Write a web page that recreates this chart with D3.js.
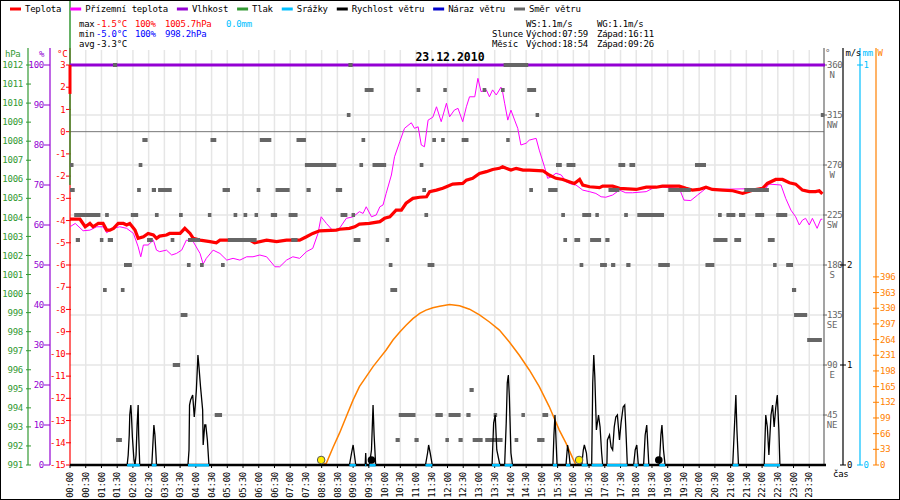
<!DOCTYPE html>
<html lang="cs">
<head>
<meta charset="UTF-8">
<title>23.12.2010</title>
<script src="https://d3js.org/d3.v7.min.js"></script>
<style>
    body { margin: 0; background: #fff; }
    svg text {
        font-family: "DejaVu Sans Mono", monospace;
        font-size: 9px;
        letter-spacing: -0.25px;
    }
</style>
</head>
<body>
<svg id="chart" width="900" height="500"></svg>
<script>
// ---- data (minute of day, value) ----
const temperature = [
    [0,-3.94],[19,-3.94],[29,-4.28],[38,-4.13],[44,-4.28],[54,-4.13],[63,-4.13],[70,-4.43],[76,-4.43],[83,-4.35],
    [92,-4.13],[102,-4.13],[108,-4.2],[114,-4.13],[124,-4.43],[130,-4.8],[140,-4.73],[149,-4.58],[159,-4.65],[165,-4.8],
    [171,-4.7],[184,-4.65],[190,-4.58],[210,-4.58],[219,-4.35],[229,-4.58],[235,-4.8],[248,-4.88],[267,-4.95],[279,-5.0],
    [286,-4.88],[311,-4.88],[343,-4.88],[352,-5.0],[375,-4.88],[394,-4.95],[413,-4.88],[438,-4.88],[451,-4.73],[463,-4.58],
    [476,-4.46],[508,-4.43],[514,-4.39],[533,-4.35],[543,-4.28],[552,-4.16],[571,-4.13],[591,-4.05],[600,-3.9],[610,-3.83],
    [622,-3.53],[632,-3.53],[641,-3.22],[654,-3.0],[667,-2.95],[680,-2.93],[686,-2.7],[699,-2.63],[711,-2.55],[718,-2.48],
    [730,-2.36],[749,-2.33],[756,-2.18],[768,-2.1],[781,-1.88],[794,-1.8],[806,-1.7],[819,-1.65],[825,-1.58],[832,-1.65],
    [841,-1.73],[851,-1.65],[864,-1.73],[876,-1.73],[902,-1.76],[914,-1.95],[927,-2.1],[940,-2.15],[952,-2.25],[962,-2.33],
    [972,-2.15],[978,-2.4],[991,-2.48],[1010,-2.52],[1016,-2.45],[1035,-2.45],[1048,-2.55],[1080,-2.6],[1099,-2.5],[1118,-2.5],
    [1130,-2.45],[1162,-2.45],[1175,-2.55],[1187,-2.63],[1200,-2.6],[1213,-2.5],[1225,-2.6],[1245,-2.63],[1264,-2.66],[1283,-2.78],
    [1302,-2.63],[1321,-2.55],[1330,-2.33],[1346,-2.15],[1359,-2.15],[1372,-2.3],[1384,-2.36],[1397,-2.63],[1410,-2.7],[1422,-2.7],
    [1429,-2.66],[1435,-2.8]
];
const temperatureSpike = [[0,3.0],[0,1.7]];

const feelsLike = [
    [0,-4.28],[10,-4.13],[25,-4.46],[38,-4.43],[51,-4.28],[63,-4.28],[70,-4.55],[83,-4.35],[95,-4.28],[108,-4.35],
    [121,-4.58],[130,-5.18],[135,-5.63],[140,-5.1],[149,-5.1],[159,-4.88],[165,-5.33],[171,-5.4],[184,-5.33],[194,-5.55],
    [203,-5.48],[213,-5.33],[222,-4.88],[235,-4.95],[248,-5.48],[254,-5.96],[260,-5.7],[273,-5.33],[286,-5.48],[299,-5.78],
    [311,-5.7],[324,-5.78],[337,-5.63],[349,-5.63],[362,-5.55],[375,-5.63],[391,-6.08],[400,-6.08],[413,-5.78],[425,-5.63],
    [438,-5.7],[451,-5.4],[463,-5.25],[473,-4.58],[479,-3.83],[489,-4.13],[502,-4.47],[514,-4.35],[527,-3.9],[540,-3.83],
    [552,-3.6],[559,-3.68],[565,-3.38],[575,-3.83],[584,-3.75],[591,-3.38],[597,-3.3],[603,-2.78],[613,-1.95],[619,-1.13],
    [629,-0.45],[638,0.15],[651,0.4],[657,0.15],[664,0.22],[670,-0.6],[676,-0.68],[683,0.52],[692,0.65],[699,1.12],
    [708,0.45],[718,1.28],[724,0.67],[733,0.97],[740,1.05],[749,0.45],[756,1.12],[762,1.57],[772,1.57],[778,2.4],
    [784,1.8],[794,1.88],[800,1.57],[806,1.88],[813,1.65],[822,2.0],[825,1.8],[829,1.28],[835,0.52],[841,0.97],
    [848,0.52],[854,0.15],[860,-0.6],[870,-0.52],[876,-0.38],[889,-0.3],[895,-0.83],[905,-1.58],[911,-2.1],[918,-2.03],
    [927,-1.87],[937,-1.95],[946,-2.25],[956,-2.36],[965,-2.4],[978,-2.63],[991,-2.7],[1003,-2.78],[1013,-2.93],[1022,-2.95],
    [1035,-2.85],[1048,-2.63],[1060,-2.75],[1073,-2.75],[1099,-2.7],[1111,-2.55],[1124,-2.48],[1162,-2.55],[1171,-3.08],[1184,-3.1],
    [1197,-2.85],[1213,-2.55],[1232,-2.6],[1327,-2.55],[1333,-2.36],[1356,-2.4],[1365,-3.0],[1375,-3.53],[1384,-3.83],[1391,-4.2],
    [1397,-3.98],[1403,-3.9],[1410,-4.2],[1416,-3.9],[1425,-4.35],[1432,-3.94],[1435,-3.94]
];

const humidity = [[0,100],[1440,100]];
const pressure = [[0,1016],[0,1005.7]];

const wind = [
    [0,0],[109,0],[111,0.1],[113,0.3],[114,0.5],[116,0.6],[117,0.52],[119,0.28],[122,0.05],[124,0],[126,0.1],[128,0.4],[130,0.6],[131,0.3],[133,0],
    [156,0],[158,0.2],[160,0.4],[162,0.3],[164,0.1],[165,0],
    [225,0],[227,0.15],[228,0.6],[230,0.65],[234,0.7],[237,0.48],[239,0.6],[241,0.75],[243,0.98],[244,1.1],[246,0.98],[249,0.78],[253,0.55],[254,0.2],[257,0.4],[259,0.4],[262,0.25],[265,0],
    [533,0],[537,0.12],[540,0.2],[542,0.12],[545,0],
    [563,0],[564,0.12],[565,0],
    [571,0],[575,0.15],[578,0.6],[580,0.3],[583,0],
    [678,0],[682,0.12],[684,0.2],[687,0.12],[691,0],
    [805,0],[808,0.42],[811,0.5],[814,0.15],[818,0.05],[820,0],
    [829,0],[832,0.42],[834,0.82],[836,0.9],[838,0.68],[841,0.12],[844,0],
    [921,0],[923,0.3],[925,0.5],[927,0.25],[929,0],
    [946,0],[949,0.2],[952,0.1],[954,0],
    [976,0],[979,0.15],[981,0.2],[985,0.12],[987,0],
    [995,0],[997,0.82],[999,1.1],[1001,0.88],[1004,0.35],[1008,0.5],[1011,0.38],[1014,0.12],[1016,0],
    [1024,0],[1025,0.25],[1029,0.3],[1032,0.18],[1035,0.15],[1038,0.38],[1041,0.48],[1044,0.5],[1048,0.25],[1051,0.42],[1055,0.58],[1058,0.6],[1060,0.38],[1063,0],
    [1075,0],[1078,0.15],[1081,0.2],[1084,0],
    [1094,0],[1097,0.3],[1100,0.4],[1104,0],
    [1124,0],[1127,0.3],[1129,0.4],[1132,0.15],[1135,0],
    [1264,0],[1267,0.35],[1270,0.7],[1272,0.35],[1275,0],
    [1324,0],[1327,0.5],[1330,0.38],[1333,0.1],[1337,0.5],[1340,0.6],[1343,0.38],[1346,0.57],[1349,0.7],[1352,0.35],[1354,0],[1440,0]
];

const solarMin = [479,489,502,514,527,540,552,565,578,590,603,616,629,641,654,667,679,692,705,724,743,762,781,800,819,838,857,876,895,914,933,946,959,965];
const solarW   = [0,4,38,67,102,137,165,186,207,224,242,263,280,294,308,319,326,331,334,338,335,328,316,301,284,259,231,200,165,123,74,46,14,0];

// wind direction runs: [from minute, to minute, degrees]
const dirRuns = [
    [82,90,360],[531,539,360],[827,874,360],
    [562,579,337.5],[661,668,337.5],[712,718,337.5],[787,794,337.5],[822,829,337.5],[872,889,337.5],
    [528,535,315],[888,894,315],[1432,1438,315],
    [138,148,292.5],[268,279,292.5],[362,384,292.5],[432,450,292.5],[556,563,292.5],[691,698,292.5],[708,714,292.5],[747,760,292.5],[832,838,292.5],
    [0,5,270],[131,138,270],[448,508,270],[552,559,270],[577,603,270],[667,674,270],[927,938,270],[947,964,270],[1046,1059,270],[1067,1078,270],[1192,1213,270],
    [0,9,247.5],[128,135,247.5],[156,164,247.5],[168,194,247.5],[291,305,247.5],[356,363,247.5],[392,419,247.5],[451,459,247.5],[507,519,247.5],[672,679,247.5],[876,883,247.5],[912,930,247.5],[1027,1048,247.5],[1141,1184,247.5],[1286,1333,247.5],
    [8,58,225],[67,74,225],[116,130,225],[162,169,225],[208,215,225],[263,269,225],[312,319,225],[331,338,225],[352,358,225],[383,395,225],[417,434,225],[516,529,225],[537,543,225],[676,683,225],[937,944,225],[977,994,225],[1002,1008,225],[1057,1064,225],[1082,1133,225],[1236,1243,225],[1252,1269,225],[1276,1288,225],[1307,1324,225],[1347,1368,225],
    [11,19,202.5],[57,63,202.5],[72,82,202.5],[147,158,202.5],[192,199,202.5],[225,248,202.5],[301,356,202.5],[422,434,202.5],[541,554,202.5],[602,608,202.5],[941,948,202.5],[962,973,202.5],[992,1013,202.5],[1021,1029,202.5],[1227,1254,202.5],[1267,1280,202.5],[1331,1344,202.5],
    [103,118,180],[223,230,180],[248,255,180],[288,295,180],[608,615,180],[682,695,180],[972,979,180],[1011,1024,180],[1032,1040,180],[1061,1069,180],[1122,1144,180],[1212,1229,180],[1341,1347,180],[1366,1379,180],
    [63,70,157.5],[97,104,157.5],[611,624,157.5],[1377,1385,157.5],
    [211,224,135],[1381,1406,135],
    [1406,1434,112.5],
    [196,210,90],
    [762,770,67.5],
    [276,290,45],[627,659,45],[697,711,45],[722,745,45],[756,764,45],[808,813,45],[861,867,45],[901,912,45],
    [88,99,22.5],[621,629,22.5],[657,665,22.5],[716,722,22.5],[741,749,22.5],[768,787,22.5],[792,825,22.5],[848,855,22.5],[891,905,22.5]
];

const sunMarks = [479, 971];      // sunrise, sunset
const moonMarks = [575, 1123];    // moon markers as drawn

const legendNames  = ["Teplota","Přízemní teplota","Vlhkost","Tlak","Srážky","Rychlost větru","Náraz větru","Směr větru"];
const legendColors = ["#ff0000","#ff00ff","#9400d3","#339933","#00bfff","#000000","#0000cc","#666666"];

const statLabels = ["max","min","avg"];
const statTemp   = ["-1.5°C","-5.0°C","-3.3°C"];
const statHum    = ["100%","100%",""];
const statPress  = ["1005.7hPa","998.2hPa",""];
const statRain   = ["0.0mm","",""];

const dirTicks = [45,90,135,180,225,270,315,360];
const dirNames = ["NE","E","SE","S","SW","W","NW","N"];

// ---- scales ----
const svg = d3.select("#chart");
const x  = d3.scaleLinear().domain([0, 1440]).range([70, 825]);
const yT = d3.scaleLinear().domain([-15, 3]).range([465, 65]);
const yH = d3.scaleLinear().domain([0, 100]).range([465, 65]);
const yP = d3.scaleLinear().domain([991, 1012]).range([465, 65]);
const yD = d3.scaleLinear().domain([0, 360]).range([465, 65]);
const yV = d3.scaleLinear().domain([0, 4]).range([465, 65]);
const yR = d3.scaleLinear().domain([0, 1]).range([465, 65]);
const yS = d3.scaleLinear().domain([0, 842]).range([465, 65]);

const axisTop = 48, base = 465;

// ---- grid ----
svg.append("g").selectAll("line").data(d3.range(30, 1440, 30)).join("line")
    .attr("x1", d => x(d)).attr("x2", d => x(d))
    .attr("y1", 50).attr("y2", base)
    .attr("stroke", "#e6e6e6").attr("stroke-width", 1.5);

svg.append("g").selectAll("line").data(dirTicks.slice(0, 7)).join("line")
    .attr("x1", x(0)).attr("x2", 824)
    .attr("y1", d => yD(d)).attr("y2", d => yD(d))
    .attr("stroke", "#e6e6e6").attr("stroke-width", 1.5);

svg.append("line")
    .attr("x1", x(0)).attr("x2", 824)
    .attr("y1", yT(0)).attr("y2", yT(0))
    .attr("stroke", "#777").attr("stroke-width", 1);

// ---- axes ----
function vAxis(xPos, color) {
    svg.append("line").attr("x1", xPos).attr("x2", xPos).attr("y1", axisTop).attr("y2", base)
        .attr("stroke", color).attr("stroke-width", 1.2);
}
function ticks(values, scale, x1, x2, tx, anchor, color, fmt) {
    const g = svg.append("g");
    g.selectAll("line").data(values).join("line")
        .attr("x1", x1).attr("x2", x2)
        .attr("y1", d => scale(d)).attr("y2", d => scale(d))
        .attr("stroke", color);
    g.selectAll("text").data(values).join("text")
        .attr("x", tx).attr("y", d => scale(d)).attr("dy", "0.35em")
        .attr("text-anchor", anchor).attr("fill", color)
        .text(fmt || (d => d));
    return g;
}

vAxis(28, "#339933");
ticks(d3.range(991, 1013), yP, 26, 31, 23, "end", "#339933");
vAxis(50, "#9400d3");
ticks(d3.range(0, 101, 10), yH, 44, 50, 44, "end", "#9400d3");
vAxis(70, "#ff0000");
ticks(d3.range(-15, 4), yT, 66, 71, 65.5, "end", "#ff0000");

svg.append("text").attr("x", 5).attr("y", 57).attr("fill", "#339933").text("hPa");
svg.append("text").attr("x", 39).attr("y", 57).attr("fill", "#9400d3").text("%");
svg.append("text").attr("x", 57).attr("y", 57).attr("fill", "#ff0000").text("°C");

vAxis(824, "#666");
const dg = ticks(dirTicks, yD, 823, 827, 827, "start", "#666");
dg.selectAll("text.name").data(dirTicks).join("text").attr("class", "name")
    .attr("x", 832).attr("y", d => yD(d) + 10).attr("dy", "0.35em")
    .attr("text-anchor", "middle").attr("fill", "#666")
    .text((d, i) => dirNames[i]);

vAxis(843, "#000");
ticks([0, 1, 2], yV, 840, 846, 847, "start", "#000");
vAxis(860, "#00bfff");
ticks([0, 1], yR, 857, 863, 863.5, "start", "#00bfff");
vAxis(876, "#ff8000");
ticks(d3.range(0, 397, 33), yS, 873, 879, 880, "start", "#ff8000");

svg.append("text").attr("x", 825).attr("y", 56).attr("fill", "#666").text("°");
svg.append("text").attr("x", 845.5).attr("y", 56).attr("fill", "#000").text("m/s");
svg.append("text").attr("x", 862.5).attr("y", 56).attr("fill", "#00bfff").text("mm");
svg.append("text").attr("x", 877.5).attr("y", 56).attr("fill", "#ff8000").text("W");
svg.append("text").attr("x", 833).attr("y", 477).attr("fill", "#000").text("čas");

// ---- series ----
const line = (ys) => d3.line().x(d => x(d[0])).y(d => ys(d[1]));

svg.append("path").datum(pressure).attr("d", line(yP))
    .attr("fill", "none").attr("stroke", "#339933").attr("stroke-width", 1.5);

svg.append("path").datum(humidity).attr("d", line(yH))
    .attr("fill", "none").attr("stroke", "#9400d3").attr("stroke-width", 3);

svg.append("path").datum(d3.zip(solarMin, solarW)).attr("d", line(yS))
    .attr("fill", "none").attr("stroke", "#ff8000").attr("stroke-width", 1.5);

svg.append("path").datum(feelsLike).attr("d", line(yT))
    .attr("fill", "none").attr("stroke", "#ff00ff").attr("stroke-width", 1);

svg.append("path").datum(temperature).attr("d", line(yT))
    .attr("fill", "none").attr("stroke", "#ff0000").attr("stroke-width", 3.2);
svg.append("path").datum(temperatureSpike).attr("d", line(yT))
    .attr("fill", "none").attr("stroke", "#ff0000").attr("stroke-width", 3);

// direction squares
svg.append("g").selectAll("rect").data(dirRuns).join("rect")
    .attr("x", d => x(d[0])).attr("width", d => Math.max(3.5, x(d[1]) - x(d[0])))
    .attr("y", d => yD(d[2]) - 2).attr("height", 4)
    .attr("fill", "#666");

// wind speed
svg.append("path").datum(wind).attr("d", line(yV))
    .attr("fill", "none").attr("stroke", "#000").attr("stroke-width", 1.3);

// base line + time ticks
svg.append("line").attr("x1", x(0)).attr("x2", 826).attr("y1", base).attr("y2", base)
    .attr("stroke", "#000").attr("stroke-width", 2.5);
svg.append("g").selectAll("line").data(d3.range(0, 1440, 30)).join("line")
    .attr("x1", d => x(d)).attr("x2", d => x(d)).attr("y1", base).attr("y2", base + 3)
    .attr("stroke", "#000");

// cyan marks under windy spells
const spells = [];
for (let i = 1; i < wind.length; i++) {
    if (wind[i][1] > 0 && wind[i - 1][1] === 0) spells.push([wind[i - 1][0], null]);
    if (wind[i][1] === 0 && wind[i - 1][1] > 0) spells[spells.length - 1][1] = wind[i][0];
}
svg.append("g").selectAll("rect").data(spells).join("rect")
    .attr("x", d => x(d[0])).attr("width", d => x(d[1]) - x(d[0]))
    .attr("y", base - 1).attr("height", 2.5).attr("fill", "#00bfff");

// sun & moon markers
svg.append("g").selectAll("circle").data(sunMarks).join("circle")
    .attr("cx", d => x(d)).attr("cy", base - 5).attr("r", 3.8)
    .attr("fill", "#ffee00").attr("stroke", "#555").attr("stroke-width", 1);
svg.append("g").selectAll("circle").data(moonMarks).join("circle")
    .attr("cx", d => x(d)).attr("cy", base - 5).attr("r", 3.8)
    .attr("fill", "#000");

// x labels
svg.append("g").selectAll("text").data(d3.range(0, 1440, 30)).join("text")
    .attr("transform", d => `translate(${x(d)},472) rotate(-90)`)
    .attr("dy", "0.35em").attr("text-anchor", "end").attr("fill", "#000")
    .text(d => d3.format("02")(Math.floor(d / 60)) + ":" + d3.format("02")(d % 60));

// ---- legend ----
let lx = 10;
legendNames.forEach((name, i) => {
    svg.append("line").attr("x1", lx).attr("x2", lx + 11).attr("y1", 9).attr("y2", 9)
        .attr("stroke", legendColors[i]).attr("stroke-width", 3);
    const t = svg.append("text").attr("x", lx + 15).attr("y", 9).attr("dy", "0.35em")
        .attr("fill", "#000").text(name);
    lx += 15 + t.node().getComputedTextLength() + 9;
});

// ---- stats ----
const rowColors = ["#ff0000", "#0000ff", "#000000"];
statLabels.forEach((lab, i) => {
    const yy = 24 + i * 10;
    const put = (xx, s, c) => svg.append("text").attr("x", xx).attr("y", yy).attr("dy", "0.35em").attr("fill", c).text(s);
    put(79, lab, "#000");
    put(96, statTemp[i], i === 2 ? "#000" : rowColors[i]);
    put(135, statHum[i], rowColors[i]);
    put(165, statPress[i], rowColors[i]);
    put(226, statRain[i], "#00bfff");
});

const info = [
    ["", "WS:1.1m/s", "WG:1.1m/s"],
    ["Slunce", "Východ:07:59", "Západ:16:11"],
    ["Měsíc", "Východ:18:54", "Západ:09:26"]
];
info.forEach((row, i) => {
    const yy = 24 + i * 10;
    svg.append("text").attr("x", 492).attr("y", yy).attr("dy", "0.35em").text(row[0]);
    svg.append("text").attr("x", 526).attr("y", yy).attr("dy", "0.35em").text(row[1]);
    svg.append("text").attr("x", 597).attr("y", yy).attr("dy", "0.35em").text(row[2]);
});

svg.append("text").attr("x", 450).attr("y", 61).attr("text-anchor", "middle")
    .style("font-size", "11.5px").style("font-weight", "bold").style("letter-spacing", "0px")
    .text("23.12.2010");

// frame
svg.append("rect").attr("x", 0.5).attr("y", 0.5).attr("width", 899).attr("height", 499)
    .attr("fill", "none").attr("stroke", "#000");
</script>
</body>
</html>
